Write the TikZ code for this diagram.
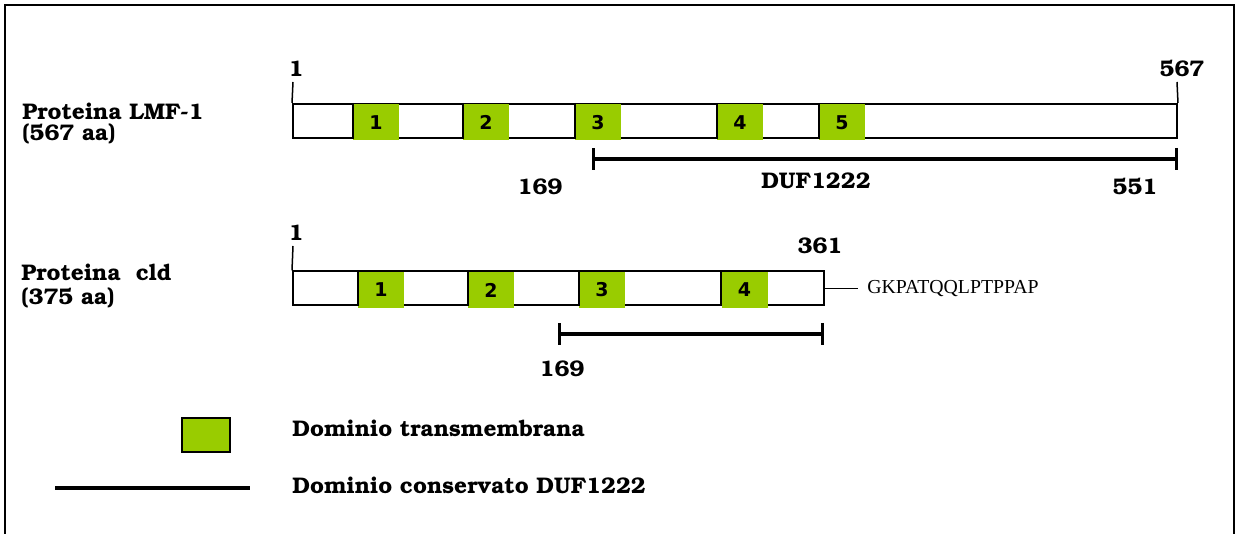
\documentclass[tikz,border=0pt]{standalone}
\usepackage[T1]{fontenc}
\usepackage{fontspec}
\usetikzlibrary{arrows.meta, positioning}
\usepackage{xcolor}
\definecolor{cTM}{HTML}{99CC00}
\newfontfamily\digitfont{DejaVu Sans}
\newfontfamily\seqfont{Liberation Serif}
\newcommand{\bkfont}{\fontencoding{T1}\fontfamily{pbk}\fontseries{b}\selectfont}

\begin{document}
\begin{tikzpicture}[x=0.5pt, y=-0.5pt,
  lbl/.style={font={\fontsize{11.3}{13}\bkfont}, inner sep=0pt},
  protbar/.style={rectangle, draw, line width=1pt, fill=white,
                  minimum height=17pt, inner sep=0pt},
  tmbox/.style={rectangle, fill=cTM, minimum width=23pt, minimum height=18pt,
                inner sep=0pt, font={\digitfont\bfseries\fontsize{9.5}{10}\selectfont}},
  sep/.style={line width=1pt},
  tick/.style={line width=0.75pt},
  duf/.style={{Bar[width=11pt, line width=1.6pt]}-{Bar[width=11pt, line width=1.6pt]},
              line width=1.75pt},
]
\useasboundingbox (0,0) rectangle (1238,534);

% ---- Frame ----
\draw[line width=1pt] (5,534) -- (5,5) -- (1234,5) -- (1234,534);

% ---- Proteina LMF-1 ----
\node[lbl, anchor=base west] (nlmf) at (22,120) {Proteina LMF-1};
\node[lbl, anchor=base west] (almf) at (22,141) {(567 aa)};
\node[protbar, minimum width=442pt] (lmf) at (735,121) {};
\foreach \x/\n in {376/1, 486/2, 598/3, 740/4, 842/5} {
  \node[tmbox] (lmftm\n) at (\x,122.5) {\n};
  \draw[sep] (lmf.north -| lmftm\n.west) -- (lmf.south -| lmftm\n.west);
}
\node[lbl, anchor=base] (lmfs) at (296,77) {1};
\node[lbl, anchor=base] (lmfe) at (1182,77) {567};
\coordinate (lmfst) at (293,82);
\coordinate (lmfet) at (1177,82);
\draw[tick] (lmf.north west) -- (lmfst);
\draw[tick] (lmf.north east) -- (lmfet);

% DUF1222 LMF-1
\coordinate (duf1a) at (592,159);
\coordinate (duf1b) at (1178,159);
\draw[duf] (duf1a) -- (duf1b);
\node[lbl, anchor=base] (duf1s) at (540,195) {169};
\node[lbl, anchor=base] (duf1n) at (816,189) {DUF1222};
\node[lbl, anchor=base] (duf1e) at (1135,195) {551};

% ---- Proteina cld ----
\node[lbl, anchor=base west] (ncld) at (21,281) {Proteina\ \ cld};
\node[lbl, anchor=base west] (acld) at (21,305) {(375 aa)};
\node[protbar, minimum width=265.5pt] (cld) at (558.5,288.5) {};
\foreach \x/\n in {381/1, 491/2, 602/3, 744.5/4} {
  \node[tmbox] (cldtm\n) at (\x,290) {\n};
  \draw[sep] (cld.north -| cldtm\n.west) -- (cld.south -| cldtm\n.west);
}
\node[lbl, anchor=base] (clds) at (296,241) {1};
\node[lbl, anchor=base] (clde) at (820,254) {361};
\coordinate (cldst) at (293,246);
\draw[tick] (cld.north west) -- (cldst);
\node[font={\seqfont\fontsize{9.9}{11}\selectfont}, anchor=west, inner sep=4.5pt]
  (seq) at (858,288.5) {GKPATQQLPTPPAP};
\draw[tick] (cld.east) -- (seq.west);

% DUF1222 cld
\coordinate (duf2a) at (558,334);
\coordinate (duf2b) at (824,334);
\draw[duf] (duf2a) -- (duf2b);
\node[lbl, anchor=base] (duf2s) at (562,377) {169};

% ---- Legend ----
\node[rectangle, draw, line width=1pt, fill=cTM, minimum width=24pt,
      minimum height=17pt] (legtm) at (206,435) {};
\node[lbl, anchor=base west] (legtmt) at (292,437) {Dominio transmembrana};
\coordinate (legla) at (55,488);
\coordinate (leglb) at (250,488);
\draw[line width=2pt] (legla) -- (leglb);
\node[lbl, anchor=base west] (leglt) at (292,494) {Dominio conservato DUF1222};

\end{tikzpicture}
\end{document}
